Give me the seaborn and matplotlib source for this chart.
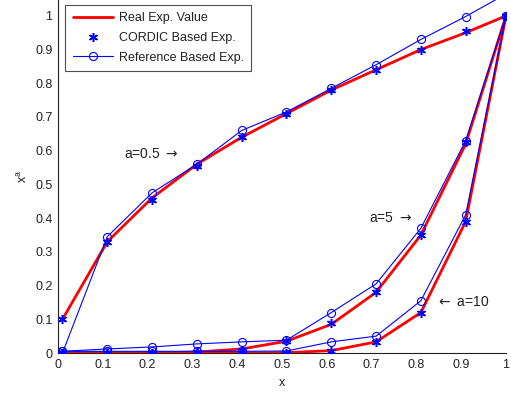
import matplotlib
matplotlib.use("Agg")
import matplotlib.pyplot as plt
import seaborn as sns
from matplotlib.lines import Line2D

x = [0.01, 0.11, 0.21, 0.31, 0.41, 0.51, 0.61, 0.71, 0.81, 0.91, 1.0]
real_05 = [0.10, 0.33, 0.46, 0.56, 0.64, 0.71, 0.78, 0.84, 0.90, 0.95, 1.00]
cordic_05 = [0.10, 0.33, 0.455, 0.555, 0.64, 0.71, 0.78, 0.84, 0.90, 0.955, 1.00]
ref_05 = [0.0, 0.345, 0.475, 0.56, 0.66, 0.715, 0.785, 0.855, 0.93, 0.998, 1.065]
real_5 = [0.0, 0.0, 0.0, 0.003, 0.012, 0.035, 0.085, 0.18, 0.35, 0.62, 1.0]
cordic_5 = [0.0, 0.0, 0.0, 0.003, 0.010, 0.035, 0.088, 0.18, 0.35, 0.625, 1.0]
ref_5 = [0.005, 0.012, 0.018, 0.027, 0.033, 0.038, 0.12, 0.205, 0.37, 0.63, 1.0]
real_10 = [0.0, 0.0, 0.0, 0.0, 0.0, 0.001, 0.007, 0.033, 0.12, 0.39, 1.0]
cordic_10 = [0.0, 0.0, 0.0, 0.0, 0.0, 0.001, 0.007, 0.033, 0.12, 0.39, 1.0]
ref_10 = [0.005, 0.005, 0.005, 0.005, 0.005, 0.006, 0.033, 0.05, 0.155, 0.41, 1.0]

legend_labels = ["Real Exp. Value", "CORDIC Based Exp.", "Reference Based Exp."]
xticks = [0, 0.1, 0.2, 0.3, 0.4, 0.5, 0.6, 0.7, 0.8, 0.9, 1]
xticklabels = ["0", "0.1", "0.2", "0.3", "0.4", "0.5", "0.6", "0.7", "0.8", "0.9", "1"]
yticks = [0, 0.1, 0.2, 0.3, 0.4, 0.5, 0.6, 0.7, 0.8, 0.9, 1]
yticklabels = ["0", "0.1", "0.2", "0.3", "0.4", "0.5", "0.6", "0.7", "0.8", "0.9", "1"]

sns.set_style("white")
plt.rcParams['font.family'] = ['Liberation Sans', 'DejaVu Sans']
plt.rcParams['mathtext.fontset'] = 'dejavusans'

fig = plt.figure(figsize=(5.11, 3.94), dpi=100)
ax = fig.add_axes([58/511, 1-353/394, 448/511, 353/394])

RED = (1, 0, 0)
BLUE = (0, 0, 1)
TXT = '#222222'
STAR = (6, 2, 0)

for real in (real_05, real_5, real_10):
    sns.lineplot(x=x, y=real, ax=ax, color=RED, lw=2.0, zorder=2)
for ref in (ref_05, ref_5, ref_10):
    sns.lineplot(x=x, y=ref, ax=ax, color=BLUE, lw=0.8, marker='o',
                 markersize=5.8, markerfacecolor='none', markeredgecolor=BLUE,
                 markeredgewidth=0.8, zorder=3)
for cor in (cordic_05, cordic_5, cordic_10):
    ax.plot(x, cor, linestyle='none', marker=STAR, markersize=6.5,
            markeredgewidth=1.1, color=BLUE, zorder=4)

ax.set_xlim(0, 1)
ax.set_ylim(0, 1.047)
ax.set_xticks(xticks)
ax.set_xticklabels(xticklabels)
ax.set_yticks(yticks)
ax.set_yticklabels(yticklabels)
ax.tick_params(direction='in', length=4, width=0.8, labelsize=9,
               colors=TXT, labelcolor=TXT, pad=4)
for s in ('top', 'right'):
    ax.spines[s].set_visible(False)
for s in ('left', 'bottom'):
    ax.spines[s].set_color(TXT)
    ax.spines[s].set_linewidth(0.8)

ax.set_xlabel('x', fontsize=9, color=TXT, labelpad=5)
ax.set_ylabel(r'x$^{\mathregular{a}}$', fontsize=9, color=TXT, labelpad=4)

ax.text(0.148, 0.59, r'a=0.5 $\rightarrow$', fontsize=10, color=TXT, va='center', ha='left')
ax.text(0.695, 0.40, r'a=5 $\rightarrow$', fontsize=10, color=TXT, va='center', ha='left')
ax.text(0.843, 0.15, r'$\leftarrow$ a=10', fontsize=10, color=TXT, va='center', ha='left')

handles = [
    Line2D([], [], color=RED, lw=2.0),
    Line2D([], [], color=BLUE, linestyle='none', marker=STAR, markersize=6.5,
           markeredgewidth=1.1),
    Line2D([], [], color=BLUE, lw=0.8, marker='o', markersize=5.8,
           markerfacecolor='none', markeredgewidth=0.8),
]
leg = ax.legend(handles, legend_labels, loc='upper left',
                bbox_to_anchor=(7/448, 1 - 5/353), fontsize=9,
                frameon=True, fancybox=False, borderpad=0.6,
                labelspacing=0.6, handlelength=3.2, handletextpad=0.5,
                borderaxespad=0)
leg.get_frame().set_edgecolor(TXT)
leg.get_frame().set_linewidth(0.8)
for t in leg.get_texts():
    t.set_color(TXT)

fig.savefig('out.png', dpi=100)
